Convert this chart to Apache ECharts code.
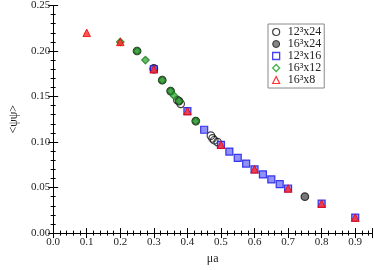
<!DOCTYPE html>
<html><head><meta charset="utf-8">
<script src="https://cdn.jsdelivr.net/npm/echarts@6/dist/echarts.min.js"></script>
<style>html,body{margin:0;padding:0;background:#fff}#c{width:374px;height:270px}</style>
</head><body><div id="c"></div>
<script>
var seriesNames = ['12³x24', '16³x24', '12³x16', '16³x12', '16³x8'];
var x12x24 = [0.3, 0.37, 0.38, 0.47, 0.475, 0.48, 0.49];
var y12x24 = [0.180, 0.146, 0.142, 0.107, 0.104, 0.102, 0.100];
var x16x24 = [0.25, 0.3, 0.325, 0.35, 0.375, 0.425, 0.75];
var y16x24 = [0.200, 0.181, 0.168, 0.156, 0.145, 0.123, 0.040];
var x12x16 = [0.3, 0.4, 0.45, 0.5, 0.525, 0.55, 0.575, 0.6, 0.625, 0.65, 0.675, 0.7, 0.8, 0.9];
var y12x16 = [0.180, 0.134, 0.1135, 0.097, 0.0896, 0.0826, 0.0764, 0.070, 0.0645, 0.059, 0.0538, 0.049, 0.0323, 0.017];
var x16x12 = [0.2, 0.25, 0.275, 0.325, 0.35, 0.36, 0.375, 0.425];
var y16x12 = [0.210, 0.200, 0.190, 0.168, 0.156, 0.151, 0.145, 0.123];
var x16x8 = [0.1, 0.2, 0.3, 0.4, 0.5, 0.6, 0.7, 0.8, 0.9];
var y16x8 = [0.220, 0.210, 0.180, 0.134, 0.097, 0.070, 0.049, 0.0323, 0.017];
var xTicks = ['0.0','0.1','0.2','0.3','0.4','0.5','0.6','0.7','0.8','0.9'];
var yTicks = ['0.00','0.05','0.10','0.15','0.20','0.25'];

function pairs(xs, ys) { return xs.map(function (v, i) { return [v, ys[i]]; }); }
var FONT = 'Liberation Serif';
var chart = echarts.init(document.getElementById('c'), null, {renderer: 'canvas'});

function axisCommon(showLabels) {
  return {
    axisLine: {show: true, lineStyle: {color: '#000', width: 1}},
    axisTick: {show: true, inside: true, length: 5, lineStyle: {color: '#000'}},
    minorTick: {show: true, splitNumber: 5, length: 2.5, lineStyle: {color: '#000'}},
    splitLine: {show: false},
    axisLabel: {show: showLabels}
  };
}
var xa = Object.assign(axisCommon(true), {type: 'value', min: 0, max: 0.95, interval: 0.1, position: 'bottom',
  name: 'μa', nameLocation: 'middle', nameGap: 16,
  nameTextStyle: {fontFamily: FONT, fontSize: 12, color: '#222'},
  axisLabel: {show: true, showMaxLabel: false, margin: 4, fontFamily: FONT, fontSize: 11, color: '#222',
    formatter: function (v) { var i = Math.round(v * 10); return (Math.abs(v * 10 - i) < 1e-6 && xTicks[i]) ? xTicks[i] : ''; }}});
var xa2 = Object.assign(axisCommon(false), {type: 'value', min: 0, max: 0.95, interval: 0.1, position: 'top'});
var ya = Object.assign(axisCommon(true), {type: 'value', min: 0, max: 0.25, interval: 0.05, position: 'left',
  name: '<ψψ>', nameLocation: 'middle', nameGap: 33, nameRotate: 90,
  nameTextStyle: {fontFamily: FONT, fontSize: 12, color: '#222'},
  axisLabel: {show: true, margin: 3, fontFamily: FONT, fontSize: 11, color: '#222',
    formatter: function (v) { var i = Math.round(v * 20); return yTicks[i] || ''; }}});
var ya2 = Object.assign(axisCommon(false), {type: 'value', min: 0, max: 0.25, interval: 0.05, position: 'right'});

var styles = [
  {symbol: 'circle', size: 7.5, item: {color: 'rgba(0,0,0,0)', borderColor: '#111', borderWidth: 1.2}},
  {symbol: 'circle', size: 7.5, item: {color: '#555', borderColor: '#111', borderWidth: 1.2}},
  {symbol: 'rect', size: 7, item: {color: '#7474f8', borderColor: '#1212e6', borderWidth: 1.2}},
  {symbol: 'diamond', size: 7.5, item: {color: '#3fae3f', borderColor: '#127a18', borderWidth: 1.2}},
  {symbol: 'triangle', size: 7.5, item: {color: '#ff2a2a', borderColor: '#ee0000', borderWidth: 1}}
];
var legendStyles = [
  {icon: 'circle', itemStyle: {color: '#fff', borderColor: '#111', borderWidth: 1.2}},
  {icon: 'circle', itemStyle: {color: '#666', borderColor: '#111', borderWidth: 1}},
  {icon: 'rect', itemStyle: {color: '#fff', borderColor: '#1515ee', borderWidth: 1.3}},
  {icon: 'diamond', itemStyle: {color: '#fff', borderColor: '#14a01a', borderWidth: 1.3}},
  {icon: 'triangle', itemStyle: {color: '#fff', borderColor: '#ff0000', borderWidth: 1.2}}
];
var dataSets = [pairs(x12x24, y12x24), pairs(x16x24, y16x24), pairs(x12x16, y12x16), pairs(x16x12, y16x12), pairs(x16x8, y16x8)];

chart.setOption({
  animation: false,
  backgroundColor: '#fff',
  grid: {left: 41, right: 2, top: 5, bottom: 25, containLabel: false},
  xAxis: [xa, xa2],
  yAxis: [ya, ya2],
  legend: {
    orient: 'vertical', left: 268, top: 24, itemGap: 0, itemWidth: 7, itemHeight: 7,
    padding: [2, 3, 2, 4], borderColor: '#888', borderWidth: 1, backgroundColor: '#fff',
    textStyle: {fontFamily: FONT, fontSize: 12, color: '#222', padding: [0, 0, 0, 3], lineHeight: 11, height: 11},
    data: seriesNames.map(function (n, i) { return Object.assign({name: n}, legendStyles[i]); })
  },
  series: seriesNames.map(function (n, i) {
    return {name: n, type: 'scatter', xAxisIndex: 0, yAxisIndex: 0, data: dataSets[i],
      symbol: styles[i].symbol, symbolSize: styles[i].size, itemStyle: styles[i].item, z: 2 + i};
  })
});
</script></body></html>
